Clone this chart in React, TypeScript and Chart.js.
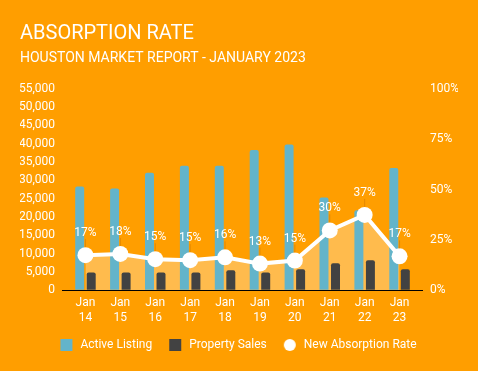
import React, { useEffect, useRef } from 'react';
import { Chart, registerables } from 'chart.js';

Chart.register(...registerables);

const categories: string[][] = [
  ['Jan', '14'], ['Jan', '15'], ['Jan', '16'], ['Jan', '17'], ['Jan', '18'],
  ['Jan', '19'], ['Jan', '20'], ['Jan', '21'], ['Jan', '22'], ['Jan', '23'],
];
const activeListing = [28300, 27800, 32100, 34000, 34000, 38300, 39800, 25300, 21800, 33400];
const propertySales = [4800, 4800, 4800, 4800, 5450, 4800, 5700, 7350, 8150, 5700];
const absorptionRate = [17.4, 18.0, 15.4, 14.9, 16.3, 13.2, 14.7, 29.7, 37.4, 16.8];

const leftTicksMax = 55000;
const leftTickStep = 5000;
const rightTicksMax = 100;
const rightTickStep = 25;

const BG = '#FF9E00';
const BLUE = '#63B4CA';
const DARK = '#424242';
const WHITE = '#FFFFFF';
const FONT = 'Roboto';

// legend icon: 25px wide canvas, 12px visible mark starting 10px in
function makeIcon(kind: 'square' | 'circle', color: string): HTMLCanvasElement {
  const c = document.createElement('canvas');
  c.width = 25;
  c.height = 12;
  const g = c.getContext('2d')!;
  g.fillStyle = color;
  if (kind === 'square') {
    g.fillRect(10, 0, 12, 12);
  } else {
    g.beginPath();
    g.arc(16, 6, 6, 0, Math.PI * 2);
    g.fill();
  }
  return c;
}

const rateLabelPlugin = {
  id: 'rateLabelPlugin',
  afterLayout(chart: any) {
    if (chart.legend) {
      chart.legend.left -= 5;
      chart.legend.right -= 5;
    }
  },
  afterDatasetsDraw(chart: any) {
    const meta = chart.getDatasetMeta(2);
    const ctx = chart.ctx as CanvasRenderingContext2D;
    ctx.save();
    meta.data.forEach((pt: any, i: number) => {
      const x = pt.x;
      const y = pt.y;
      ctx.strokeStyle = 'rgba(205,120,0,0.55)';
      ctx.lineWidth = 1;
      ctx.beginPath();
      ctx.moveTo(x, y - 8);
      ctx.lineTo(x, y - 16);
      ctx.stroke();
      ctx.fillStyle = WHITE;
      ctx.font = `12px ${FONT}`;
      ctx.textAlign = 'center';
      ctx.textBaseline = 'middle';
      ctx.fillText(`${Math.round(absorptionRate[i])}%`, x, y - 22);
    });
    ctx.restore();
  },
};

export default function App() {
  const ref = useRef<HTMLCanvasElement>(null);

  useEffect(() => {
    if (!ref.current) return;
    const icons = [makeIcon('square', BLUE), makeIcon('square', DARK), makeIcon('circle', WHITE)];
    const zeroLine = (ctx: any) => (ctx.tick && ctx.tick.value === 0 ? '#000000' : 'rgba(0,0,0,0)');

    const chart = new Chart(ref.current, {
      type: 'bar',
      data: {
        labels: categories,
        datasets: [
          {
            type: 'bar',
            label: 'Active Listing',
            data: activeListing,
            backgroundColor: BLUE,
            borderRadius: { topLeft: 2, topRight: 2, bottomLeft: 0, bottomRight: 0 },
            borderSkipped: false,
            categoryPercentage: 0.66,
            barPercentage: 0.78,
            yAxisID: 'y',
            order: 1,
          },
          {
            type: 'bar',
            label: 'Property Sales',
            data: propertySales,
            backgroundColor: DARK,
            borderRadius: { topLeft: 2, topRight: 2, bottomLeft: 0, bottomRight: 0 },
            borderSkipped: false,
            categoryPercentage: 0.66,
            barPercentage: 0.78,
            yAxisID: 'y',
            order: 1,
          },
          {
            type: 'line',
            label: 'New Absorption Rate',
            data: absorptionRate,
            borderColor: WHITE,
            borderWidth: 4,
            backgroundColor: 'rgba(255,255,255,0.3)',
            fill: 'origin',
            tension: 0,
            pointRadius: 8,
            pointHoverRadius: 8,
            pointBackgroundColor: WHITE,
            pointBorderWidth: 0,
            yAxisID: 'y1',
            order: 0,
          },
        ],
      } as any,
      options: {
        animation: false,
        responsive: false,
        layout: { padding: { left: 20, right: 20, top: 0, bottom: 10 } },
        scales: {
          x: {
            grid: { display: false, drawTicks: false },
            border: { display: false },
            ticks: { color: WHITE, font: { family: FONT, size: 12, lineHeight: 1.2 }, maxRotation: 0, padding: 6 },
          },
          y: {
            position: 'left',
            min: 0,
            max: leftTicksMax,
            afterFit: (s: any) => { s.width = 48; },
            ticks: {
              stepSize: leftTickStep,
              color: WHITE,
              font: { family: FONT, size: 12 },
              padding: 7,
              callback: (v: any) => Number(v).toLocaleString('en-US'),
            },
            grid: { color: zeroLine, tickLength: 6, lineWidth: 1 },
            border: { display: false },
          },
          y1: {
            position: 'right',
            min: 0,
            max: rightTicksMax,
            afterFit: (s: any) => { s.width = 41; },
            ticks: {
              stepSize: rightTickStep,
              color: WHITE,
              font: { family: FONT, size: 12 },
              padding: 7,
              callback: (v: any) => `${v}%`,
            },
            grid: { color: zeroLine, tickLength: 6, lineWidth: 1, drawOnChartArea: false },
            border: { display: false },
          },
        },
        plugins: {
          filler: { drawTime: 'beforeDatasetsDraw' },
          tooltip: { enabled: false },
          title: {
            display: true,
            text: 'ABSORPTION RATE',
            align: 'start',
            color: WHITE,
            font: { family: FONT, size: 20, weight: 'normal' },
            padding: { top: 22, bottom: 4 },
          },
          subtitle: {
            display: true,
            text: 'HOUSTON MARKET REPORT - JANUARY 2023',
            align: 'start',
            color: WHITE,
            font: { family: FONT, size: 14, weight: 'normal' },
            padding: { top: 0, bottom: 22 },
          },
          legend: {
            position: 'bottom',
            labels: {
              color: WHITE,
              font: { family: FONT, size: 12 },
              boxWidth: 23,
              boxHeight: 12,
              pointStyleWidth: 23,
              usePointStyle: true,
              padding: 8,
              sort: (a: any, b: any) => a.datasetIndex - b.datasetIndex,
              generateLabels: (c: any) => {
                const items = Chart.defaults.plugins.legend.labels.generateLabels(c);
                return items.map((it: any) => ({ ...it, pointStyle: icons[it.datasetIndex], fontColor: WHITE }));
              },
            },
          },
        },
      } as any,
      plugins: [rateLabelPlugin],
    });
    return () => chart.destroy();
  }, []);

  return (
    <div style={{ position: 'fixed', left: 0, top: 0, width: 478, height: 371, background: BG }}>
      <canvas ref={ref} width={478} height={371} style={{ display: 'block' }} />
    </div>
  );
}
